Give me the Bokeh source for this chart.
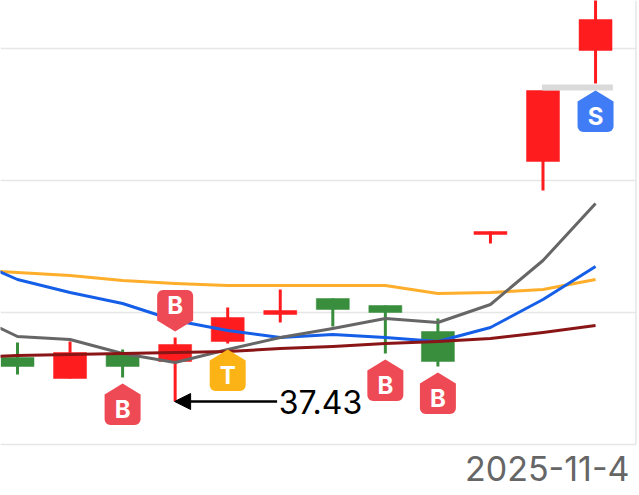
from bokeh.plotting import figure
from bokeh.embed import file_html
from bokeh.resources import INLINE
from bokeh.models import Arrow, NormalHead, FixedTicker, ColumnDataSource
from bokeh.core.properties import value
import math

# candles
idx = [0, 1, 2, 3, 4, 5, 6, 7, 8, 9, 10, 11]
open_ = [37.87, 37.66, 37.90, 37.83, 38.03, 38.30, 38.46, 38.39, 38.13, 39.10, 39.83, 40.94]
close = [37.78, 37.92, 37.78, 38.00, 38.27, 38.34, 38.35, 38.32, 37.83, 39.13, 40.54, 41.25]
high = [38.02, 38.03, 37.95, 38.07, 38.37, 38.55, 38.46, 38.39, 38.26, 39.13, 40.54, 41.54]
low = [37.70, 37.66, 37.67, 37.43, 38.01, 38.22, 38.18, 37.91, 37.78, 39.01, 39.54, 40.61]

# moving averages, from one bar before the first candle
ma_idx = [-1, 0, 1, 2, 3, 4, 5, 6, 7, 8, 9, 10, 11]
ma_gray = [38.33, 38.08, 38.05, 37.91, 37.82, 37.95, 38.07, 38.16, 38.26, 38.22, 38.40, 38.84, 39.41]
ma_blue = [38.88, 38.65, 38.52, 38.41, 38.24, 38.14, 38.07, 38.10, 38.07, 38.03, 38.17, 38.45, 38.78]
ma_orange = [38.75, 38.72, 38.69, 38.64, 38.61, 38.59, 38.59, 38.59, 38.59, 38.51, 38.52, 38.55, 38.65]
ma_red = [37.87, 37.89, 37.90, 37.91, 37.92, 37.93, 37.96, 37.98, 38.01, 38.03, 38.06, 38.12, 38.19]

# signal pins
pin_idx = [2, 3, 4, 7, 8, 11]
pin_tip = [37.61, 38.13, 37.95, 37.85, 37.72, 40.54]
pin_dir = [1, -1, 1, 1, 1, 1]          # 1: pin hangs below the tip
pin_text = ["B", "B", "T", "B", "B", "S"]
pin_color = ["#EE4A55", "#EE4A55", "#FCB316", "#EE4A55", "#EE4A55", "#3F7CF6"]

grid_levels = [37.00, 38.32, 39.64, 40.96]
low_label = "37.43"
low_value = 37.43
date_label = "2025-11-4"
price_line = 40.57

W, H = 639, 495
PX_PER_BAR = 52.55
PX_PER_PRICE = 100.0
x0 = -17 / PX_PER_BAR
x1 = (W - 17) / PX_PER_BAR
y_top = 41.44
y_bot = y_top - H / PX_PER_PRICE

p = figure(width=W, height=H, x_range=(x0, x1), y_range=(y_bot, y_top),
           output_backend="svg", toolbar_location=None,
           min_border=0, min_border_left=0, min_border_right=0,
           min_border_top=0, min_border_bottom=0, outline_line_color=None,
           margin=(0, 0, 0, 0))
p.xaxis.visible = False
p.yaxis.visible = False
p.xgrid.visible = False
p.ygrid.ticker = FixedTicker(ticks=grid_levels)
p.ygrid.grid_line_color = None

GRID = "#E6E6E6"
RIGHT = (635.5 - 17) / PX_PER_BAR
p.segment(x0, grid_levels, RIGHT, grid_levels, line_color=GRID, line_width=1.5)
p.segment(RIGHT, grid_levels[0], RIGHT, y_top, line_color=GRID, line_width=1.5)

RED, GREEN = "#FF1C1F", "#388E3C"
colors = [RED if c >= o else GREEN for o, c in zip(open_, close)]
BODY = 33 / PX_PER_BAR
src = ColumnDataSource(dict(x=idx, high=high, low=low, top=[max(a, b) for a, b in zip(open_, close)],
                            bottom=[min(a, b) for a, b in zip(open_, close)], c=colors))
p.segment("x", "high", "x", "low", line_color="c", line_width=3, source=src)
p.vbar("x", BODY, "top", "bottom", fill_color="c", line_color="c", line_width=0.5, source=src)

# current price line
p.segment(idx[10] - 0.02, price_line, idx[11] + 0.33, price_line, line_color="#DADADA", line_width=6)

for ys, col in [(ma_orange, "#FFAE2B"), (ma_blue, "#155FE8"), (ma_gray, "#666666"), (ma_red, "#8A1516")]:
    p.line(ma_idx, ys, line_color=col, line_width=3, line_join="round")


def pin_shape(cx, tip, d):
    """Pin outline, sized in pixels, anchored on its tip through the scales."""
    hw, sh, total, r = 18.0, 11.0, 41.5, 6.0
    pts = [(0, 0), (hw, sh), (hw, total - r)]
    for k in range(1, 7):
        a = k / 6 * math.pi / 2
        pts.append((hw - r + r * math.cos(a), total - r + r * math.sin(a)))
    for k in range(0, 7):
        a = math.pi / 2 + k / 6 * math.pi / 2
        pts.append((-hw + r + r * math.cos(a), total - r + r * math.sin(a)))
    pts.append((-hw, sh))
    return ([cx + a / PX_PER_BAR for a, b in pts],
            [tip - d * b / PX_PER_PRICE for a, b in pts])


xs, ys = zip(*[pin_shape(i, t, d) for i, t, d in zip(pin_idx, pin_tip, pin_dir)])
p.patches(list(xs), list(ys), fill_color=pin_color, line_color=None)
p.text(pin_idx, [t - d * 26 / PX_PER_PRICE for t, d in zip(pin_tip, pin_dir)], text=pin_text,
       text_color="#FFFFFF", text_font=value("Inter"), text_font_style="bold", text_font_size="24px",
       text_align="center", text_baseline="middle")

# lowest price note
p.add_layout(Arrow(end=NormalHead(size=16, fill_color="black", line_color="black"),
                   x_start=4.94, y_start=low_value, x_end=idx[3] - 0.01, y_end=low_value,
                   line_color="black", line_width=2.5))
p.text([4.97], [low_value], text=[low_label], text_color="#000000", text_font=value("Inter"),
       text_font_size="32px", text_align="left", text_baseline="middle")

p.text([(629 - 17) / PX_PER_BAR], [36.76], text=[date_label], text_color="#666666", text_font=value("Inter"),
       text_font_size="34px", text_align="right", text_baseline="middle")

open("out.html", "w").write(file_html(p, INLINE))
